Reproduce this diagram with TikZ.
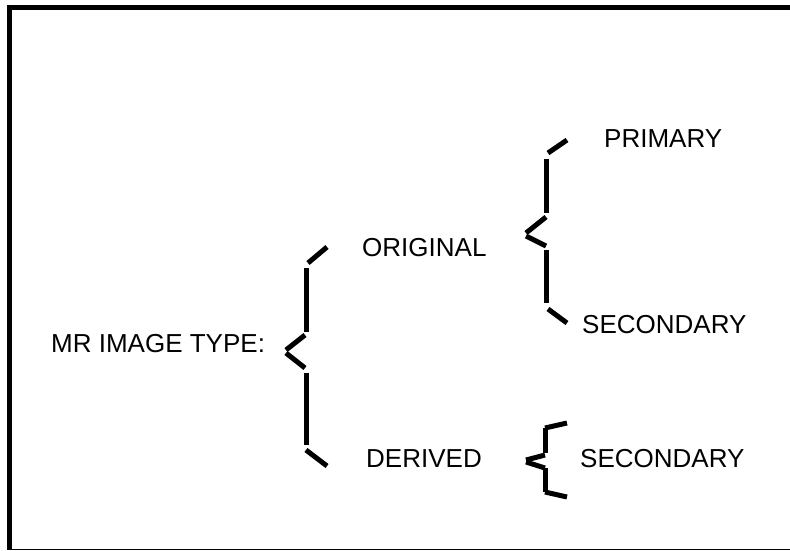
\documentclass[tikz,border=0pt]{standalone}
\usepackage{fontspec}
\setmainfont{Liberation Sans}
\begin{document}
\begin{tikzpicture}[x=1pt,y=-1pt,
  lbl/.style={anchor=base west, inner sep=0pt, font=\fontsize{26}{30}\selectfont},
  brk/.style={line width=5pt}]
\useasboundingbox (0,0) rectangle (790,550);
% frame
\draw[line width=5pt] (9.5,550) -- (9.5,7.5) -- (790,7.5);
\draw[line width=1.2pt] (7,549.4) -- (790,549.4);
% labels
\node[lbl] (mr) at (51,352) {MR IMAGE TYPE:};
\node[lbl] (orig) at (362,256) {ORIGINAL};
\node[lbl] (prim) at (604,147) {PRIMARY};
\node[lbl] (sec1) at (582,333) {SECONDARY};
\node[lbl] (der) at (366,467) {DERIVED};
\node[lbl] (sec2) at (580,467) {SECONDARY};
% bracket 1
\draw[brk] (308,263) -- (327,247);
\draw[brk] (306,268) -- (306,332);
\draw[brk] (305,335) -- (286,350);
\draw[brk] (286,353) -- (305,368);
\draw[brk] (306,373) -- (306,445);
\draw[brk] (306,450) -- (327,466);
% bracket 2
\draw[brk] (548,153) -- (567,140);
\draw[brk] (546,159) -- (546,213);
\draw[brk] (546,217) -- (526,233);
\draw[brk] (526,236) -- (546,246);
\draw[brk] (546,250) -- (546,303);
\draw[brk] (548,309) -- (567,323);
% bracket 3
\draw[brk] (545,428) -- (567,423);
\draw[brk] (545,428) -- (545,453);
\draw[brk] (545,455) -- (526,460);
\draw[brk] (526,462) -- (545,468);
\draw[brk] (545,468) -- (545,492);
\draw[brk] (545,492) -- (567,497);
\end{tikzpicture}
\end{document}
